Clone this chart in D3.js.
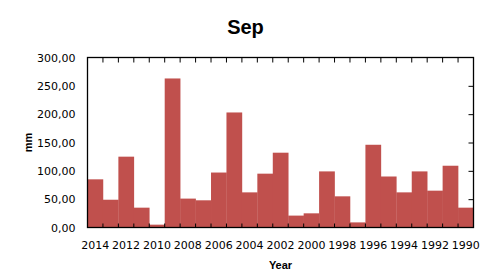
<!DOCTYPE html>
<html>
<head>
<meta charset="utf-8">
<script src="https://cdn.jsdelivr.net/npm/d3@7"></script>
<style>
  html, body { margin: 0; padding: 0; background: #fff; }
  svg { display: block; }
</style>
</head>
<body>
<svg id="chart" width="493" height="279"></svg>
<script>
const years = [2014,2013,2012,2011,2010,2009,2008,2007,2006,2005,2004,2003,2002,2001,2000,1999,1998,1997,1996,1995,1994,1993,1992,1991,1990];
const values = [85,49,125,35,5,263,51,48,97,203,62,95,132,21,25,99,55,9,146,90,62,99,65,109,35];
const yTicks = [0,50,100,150,200,250,300];
const xTickLabels = [2014,2012,2010,2008,2006,2004,2002,2000,1998,1996,1994,1992,1990];

const svg = d3.select("#chart");
const m = {left: 87.5, top: 57.5, right: 20, bottom: 52};
const W = 473.5 - m.left, H = 227.5 - m.top;
const g = svg.append("g").attr("transform", `translate(${m.left},${m.top})`);

const x = d3.scaleBand().domain(years).range([0, W]).padding(0);
const y = d3.scaleLinear().domain([0, 300]).range([H, 0]);
const fmt = d => d3.format(".2f")(d).replace(".", ",");

// bars
g.selectAll("rect.bar").data(years).join("rect")
  .attr("class", "bar")
  .attr("x", d => x(d))
  .attr("width", x.bandwidth() + 0.3)
  .attr("y", (d, i) => y(values[i]))
  .attr("height", (d, i) => y(0) - y(values[i]))
  .attr("fill", "#C0504D");

// left axis labels
const yAxis = g.append("g").call(d3.axisLeft(y).tickValues(yTicks).tickSize(0).tickPadding(12).tickFormat(fmt));
yAxis.select(".domain").remove();
yAxis.selectAll("text").attr("font-family", "DejaVu Sans").attr("font-size", 11).attr("fill", "#000");

// right axis ticks inward
const yR = g.append("g").attr("transform", `translate(${W},0)`)
  .call(d3.axisRight(y).tickValues(yTicks.slice(1, -1)).tickSize(-5).tickFormat(""));
yR.select(".domain").remove();
yR.selectAll("line").attr("stroke", "#000");

// bottom labels
const xAxis = g.append("g").attr("transform", `translate(0,${H})`)
  .call(d3.axisBottom(x).tickValues(xTickLabels).tickSize(0).tickPadding(14));
xAxis.select(".domain").remove();
xAxis.selectAll("text").attr("font-family", "DejaVu Sans").attr("font-size", 11).attr("fill", "#000");

// boundary ticks top and bottom (inward)
const bounds = years.slice(1).map(d => x(d));
g.selectAll("line.tb").data(bounds).join("line")
  .attr("x1", d => d).attr("x2", d => d)
  .attr("y1", y(300)).attr("y2", y(300) + 5)
  .attr("stroke", "#000");
g.selectAll("line.bb").data(bounds).join("line")
  .attr("x1", d => d).attr("x2", d => d)
  .attr("y1", y(0)).attr("y2", y(0) - 4)
  .attr("stroke", "#000");

// frame
g.append("rect").attr("x", 0).attr("y", 0).attr("width", W).attr("height", H)
  .attr("fill", "none").attr("stroke", "#000").attr("stroke-width", 1.3);

// titles
svg.append("text").attr("x", 245.5).attr("y", 34).attr("text-anchor", "middle")
  .attr("font-family", "Liberation Sans").attr("font-weight", "bold").attr("font-size", 20)
  .text("Sep");
svg.append("text").attr("x", m.left + W / 2).attr("y", 269).attr("text-anchor", "middle")
  .attr("font-family", "Liberation Sans").attr("font-weight", "bold").attr("font-size", 11)
  .text("Year");
svg.append("text").attr("transform", `translate(32,${m.top + H / 2}) rotate(-90)`)
  .attr("text-anchor", "middle")
  .attr("font-family", "Liberation Sans").attr("font-weight", "bold").attr("font-size", 11)
  .text("mm");
</script>
</body>
</html>
